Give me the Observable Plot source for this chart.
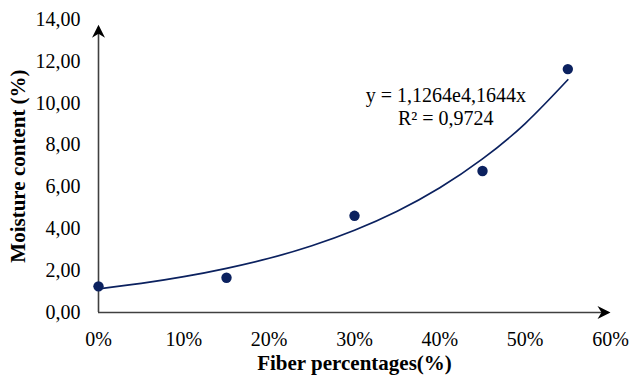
<!DOCTYPE html>
<html>
<head>
<meta charset="utf-8">
<script src="https://cdn.jsdelivr.net/npm/d3@7"></script>
<script src="https://cdn.jsdelivr.net/npm/@observablehq/plot@0.6"></script>
<style>
  html, body { margin: 0; padding: 0; background: #fff; }
  #chart svg { font-family: "Liberation Serif", "Times New Roman", serif; }
</style>
</head>
<body>
<div id="chart"></div>
<script>
// Measured data points
const fiber = [0, 0.15, 0.30, 0.45, 0.55];
const moisture = [1.25, 1.66, 4.62, 6.76, 11.63];

// Trendline (exponential fit shown in chart)
const trendX = [0, 0.05, 0.10, 0.15, 0.20, 0.25, 0.30, 0.35, 0.40, 0.45, 0.50, 0.55];
const trendY = [1.13, 1.39, 1.71, 2.11, 2.59, 3.19, 3.93, 4.84, 5.96, 7.34, 9.03, 11.12];

// Axis ticks
const xTicks = [0, 0.1, 0.2, 0.3, 0.4, 0.5, 0.6];
const xTickLabels = ["0%", "10%", "20%", "30%", "40%", "50%", "60%"];
const yTicks = [0, 2, 4, 6, 8, 10, 12, 14];
const yTickLabels = ["0,00", "2,00", "4,00", "6,00", "8,00", "10,00", "12,00", "14,00"];

const xTitle = "Fiber percentages(%)";
const yTitle = "Moisture content (%)";
const equation = "y = 1,1264e4,1644x\nR² = 0,9724";

const points = fiber.map((x, i) => ({x, y: moisture[i]}));
const trend = trendX.map((x, i) => ({x, y: trendY[i]}));

const navy = "#0b215f";
const axisColor = "#404040";

// stealth arrowhead with its tip at the origin, pointing up
const stealth = {
  draw(ctx, size) {
    ctx.moveTo(0, 0);
    ctx.lineTo(6.5, 13);
    ctx.lineTo(0, 9);
    ctx.lineTo(-6.5, 13);
    ctx.closePath();
  }
};

const chart = Plot.plot({
  width: 631,
  height: 380,
  marginLeft: 98,
  marginRight: 21,
  marginTop: 19,
  marginBottom: 68,
  style: {fontFamily: "Liberation Serif, Times New Roman, serif", fontSize: "20px", color: "#000", background: "#fff"},
  x: {domain: [0, 0.6]},
  y: {domain: [0, 14]},
  marks: [
    Plot.axisY({
      ticks: yTicks,
      tickSize: 0,
      tickPadding: 18,
      fontSize: 20,
      label: null,
      tickFormat: (d) => yTickLabels[yTicks.indexOf(d)]
    }),
    Plot.axisX({
      ticks: xTicks,
      tickSize: 0,
      tickPadding: 19,
      fontSize: 20,
      label: null,
      tickFormat: (d) => xTickLabels[xTicks.findIndex(t => Math.abs(t - d) < 1e-9)]
    }),
    Plot.ruleY([0], {x1: 0, x2: 0.598, stroke: axisColor, strokeWidth: 1.6}),
    Plot.ruleX([0], {y1: 0, y2: 13.6, stroke: axisColor, strokeWidth: 1.6}),
    Plot.dot([{x: 0.6, y: 0}], {x: "x", y: "y", symbol: stealth, rotate: 90, fill: "#000", stroke: "none"}),
    Plot.dot([{x: 0, y: 13.75}], {x: "x", y: "y", symbol: stealth, fill: "#000", stroke: "none"}),
    Plot.line(trend, {x: "x", y: "y", curve: "natural", stroke: navy, strokeWidth: 1.7}),
    Plot.dot(points, {x: "x", y: "y", r: 5.2, fill: navy, stroke: "none"}),
    Plot.text([equation], {x: 0.407, y: 9.85, text: (d) => d, fontSize: 20, lineHeight: 1.15, textAnchor: "middle", fill: "#000"}),
    Plot.text([xTitle], {frameAnchor: "bottom", dy: 57, text: (d) => d, fontSize: 21, fontWeight: "bold", textAnchor: "middle", fill: "#000"}),
    Plot.text([yTitle], {frameAnchor: "left", dx: -80, rotate: -90, text: (d) => d, fontSize: 21, fontWeight: "bold", textAnchor: "middle", fill: "#000"})
  ]
});

document.getElementById("chart").appendChild(chart);
</script>
</body>
</html>
